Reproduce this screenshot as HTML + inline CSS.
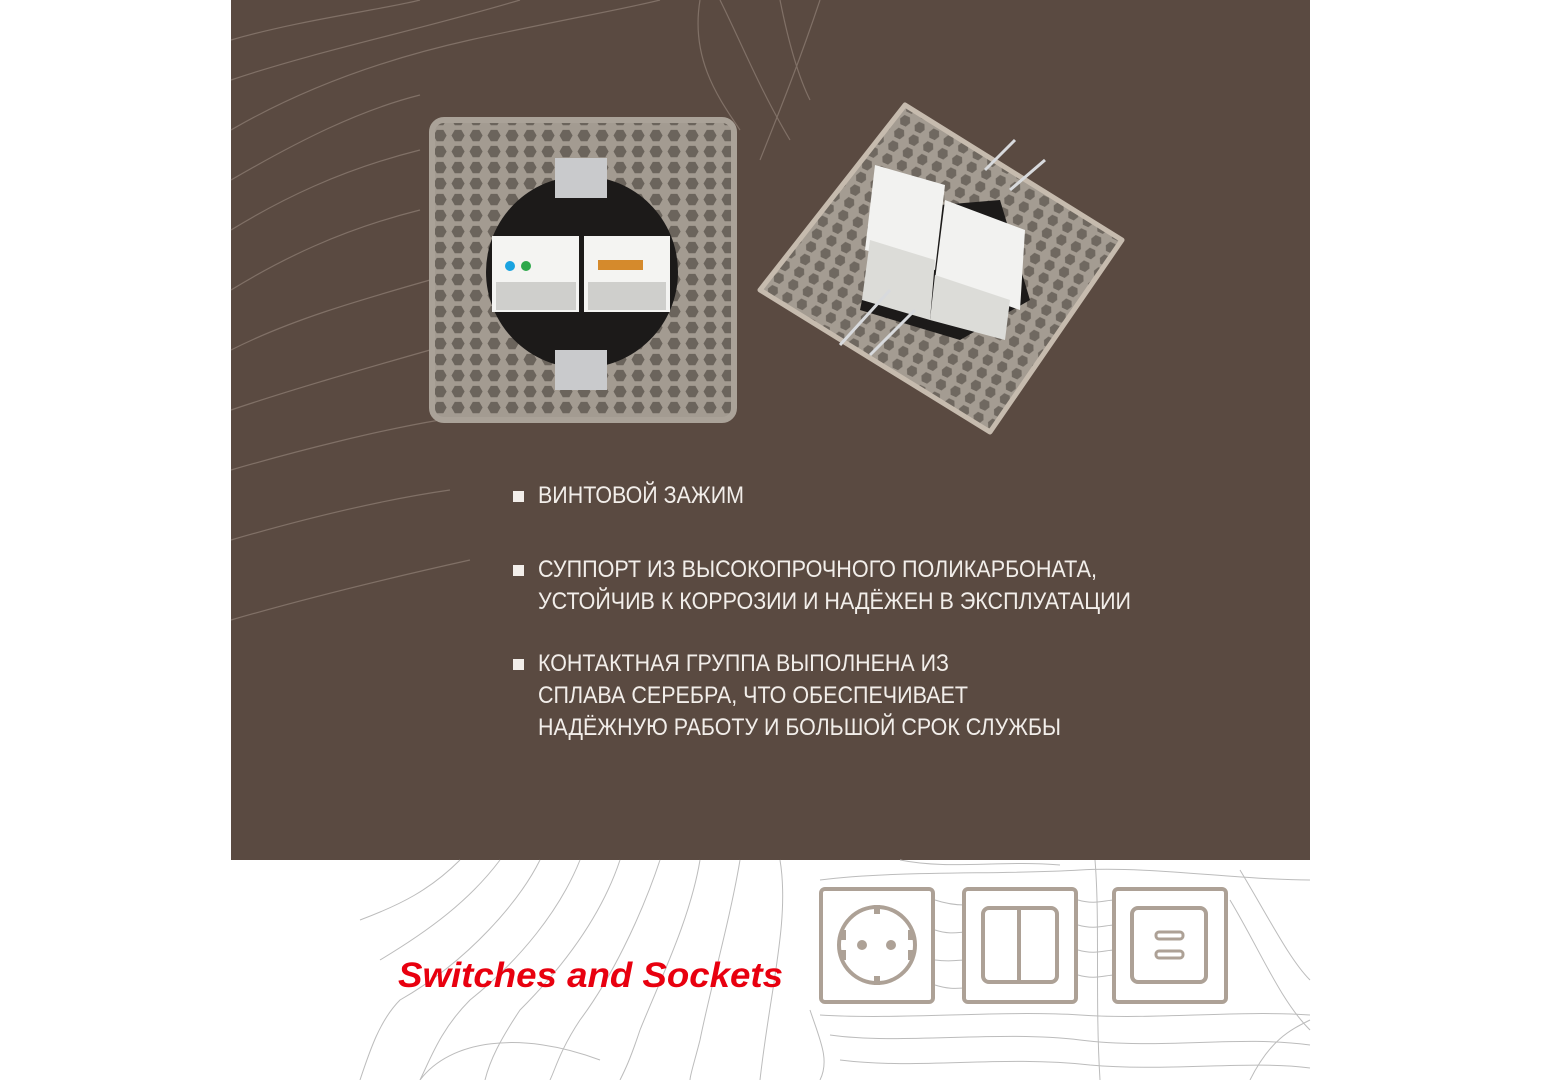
<!DOCTYPE html>
<html><head><meta charset="utf-8"><style>
html,body{margin:0;padding:0;background:#fff;}
svg{display:block}
</style></head><body>
<svg width="1543" height="1080" viewBox="0 0 1543 1080" xmlns="http://www.w3.org/2000/svg">
<defs>
<pattern id="hex" width="18" height="16" patternUnits="userSpaceOnUse">
<rect width="18" height="16" fill="#a39b91"/>
<polygon points="4,1 12,1 16,8 12,15 4,15 0,8" fill="#6b645c" transform="translate(1.5,1) scale(0.82)"/>
</pattern>
<pattern id="hex2" width="16" height="14" patternUnits="userSpaceOnUse" patternTransform="rotate(25)">
<rect width="16" height="14" fill="#a49c92"/>
<polygon points="4,1 11,1 14,7 11,13 4,13 1,7" fill="#6f6860" transform="translate(1,1) scale(0.85)"/>
</pattern>
</defs>
<rect width="1543" height="1080" fill="#fff"/>
<rect x="231" y="0" width="1079" height="860" fill="#5a4a41"/>
<g fill="none" stroke="#8a7a70" stroke-width="1.2" opacity="0.8">
<path d="M231,40 C300,20 380,10 420,0"/>
<path d="M231,80 C320,50 420,30 520,0"/>
<path d="M231,130 C300,90 380,60 470,40 C560,20 620,10 660,0"/>
<path d="M231,180 C300,140 360,110 420,95"/>
<path d="M231,230 C280,200 340,170 420,150"/>
<path d="M231,290 C280,260 340,230 420,210"/>
<path d="M231,350 C290,320 360,300 430,280"/>
<path d="M231,410 C290,390 360,370 430,350"/>
<path d="M231,470 C300,450 380,430 440,420 C520,405 580,395 620,390"/>
<path d="M231,540 C300,520 380,500 450,490"/>
<path d="M231,620 C300,600 380,580 470,560"/>
<path d="M720,0 C740,40 760,90 790,140"/>
<path d="M780,0 C790,50 800,80 810,100"/>
<path d="M700,0 C690,60 720,100 740,130"/>
<path d="M820,0 C800,60 780,110 760,160"/>
</g>
<g fill="none" stroke="#bcbcbc" stroke-width="1">
<path d="M540,860 C520,900 470,960 400,1000 C380,1020 370,1050 360,1080"/>
<path d="M580,860 C560,910 520,960 470,1000 C440,1030 430,1060 420,1080"/>
<path d="M620,860 C600,920 560,970 520,1010 C500,1040 490,1060 485,1080"/>
<path d="M660,860 C640,920 610,980 580,1020 C560,1050 555,1070 550,1080"/>
<path d="M700,860 C690,920 660,980 640,1030 C630,1060 625,1070 620,1080"/>
<path d="M740,860 C730,920 710,990 700,1040 C695,1060 690,1075 690,1080"/>
<path d="M780,860 C790,920 770,990 760,1080"/>
<path d="M500,860 C470,900 430,930 380,960"/>
<path d="M460,860 C430,890 400,905 360,920"/>
<path d="M420,1080 C450,1040 520,1030 600,1060"/>
<path d="M810,1010 C820,1040 830,1060 820,1080"/>
<path d="M935,900 C950,905 960,905 965,905"/><path d="M935,930 C950,935 960,932 965,932"/>
<path d="M935,960 C950,962 960,960 965,960"/><path d="M935,985 C950,990 960,988 965,988"/>
<path d="M1078,900 C1095,905 1105,900 1115,900"/><path d="M1078,925 C1095,930 1105,925 1115,925"/>
<path d="M1078,950 C1095,955 1105,950 1115,950"/><path d="M1078,975 C1095,980 1105,975 1115,975"/>
<path d="M820,880 C900,870 1000,875 1080,870 C1150,866 1240,880 1310,880"/>
<path d="M900,860 C950,870 1000,860 1060,865"/>
<path d="M1230,900 C1260,950 1280,1000 1310,1030"/>
<path d="M1240,870 C1270,920 1290,960 1310,980"/>
<path d="M820,1015 C900,1020 1000,1010 1080,1015 C1150,1020 1240,1010 1310,1015"/>
<path d="M830,1035 C900,1045 1000,1030 1080,1040 C1160,1050 1240,1035 1310,1045"/>
<path d="M840,1060 C920,1070 1000,1055 1090,1065 C1170,1072 1250,1060 1310,1068"/>
<path d="M1095,860 C1100,920 1095,1000 1100,1080"/>
<path d="M1250,1080 C1270,1040 1290,1030 1310,1020"/>
</g>
<rect x="432" y="120" width="302" height="300" rx="12" fill="url(#hex)" stroke="#aaa298" stroke-width="6"/>
<circle cx="582" cy="272" r="96" fill="#1c1a19"/>
<rect x="555" y="158" width="52" height="40" fill="#c9cacc"/>
<rect x="555" y="350" width="52" height="40" fill="#c9cacc"/>
<rect x="492" y="236" width="87" height="76" fill="#f4f4f2"/>
<rect x="584" y="236" width="86" height="76" fill="#f4f4f2"/>
<rect x="496" y="282" width="80" height="28" fill="#cfcfcc"/>
<rect x="588" y="282" width="78" height="28" fill="#cfcfcc"/>
<circle cx="510" cy="266" r="5" fill="#1aa3e0"/><circle cx="526" cy="266" r="5" fill="#2da84a"/>
<rect x="598" y="260" width="45" height="10" fill="#d58a2c"/>
<polygon points="905,105 1122,240 990,432 760,290" fill="url(#hex2)" stroke="#c6bbae" stroke-width="5" stroke-linejoin="round"/>
<polygon points="880,210 1000,200 1030,300 960,340 860,310" fill="#1c1a19"/>
<polygon points="875,165 945,185 935,270 865,250" fill="#f2f2f0"/>
<polygon points="945,200 1025,230 1020,310 935,280" fill="#f2f2f0"/>
<polygon points="870,240 935,260 930,320 862,300" fill="#dcdcd8"/>
<polygon points="935,275 1010,300 1005,340 930,320" fill="#dcdcd8"/>
<line x1="840" y1="345" x2="890" y2="290" stroke="#d8dadd" stroke-width="3"/>
<line x1="870" y1="355" x2="915" y2="310" stroke="#d8dadd" stroke-width="3"/>
<line x1="985" y1="170" x2="1015" y2="140" stroke="#d8dadd" stroke-width="3"/>
<line x1="1010" y1="190" x2="1045" y2="160" stroke="#d8dadd" stroke-width="3"/>
<g fill="#f2eeea" font-family="Liberation Sans, sans-serif" font-size="24">
<rect x="513" y="491" width="11" height="11"/>
<rect x="513" y="565" width="11" height="11"/>
<rect x="513" y="659" width="11" height="11"/>
<text x="538" y="503" textLength="206" lengthAdjust="spacingAndGlyphs">ВИНТОВОЙ ЗАЖИМ</text>
<text x="538" y="577" textLength="559" lengthAdjust="spacingAndGlyphs">СУППОРТ ИЗ ВЫСОКОПРОЧНОГО ПОЛИКАРБОНАТА,</text>
<text x="538" y="609" textLength="593" lengthAdjust="spacingAndGlyphs">УСТОЙЧИВ К КОРРОЗИИ И НАДЁЖЕН В ЭКСПЛУАТАЦИИ</text>
<text x="538" y="671" textLength="411" lengthAdjust="spacingAndGlyphs">КОНТАКТНАЯ ГРУППА ВЫПОЛНЕНА ИЗ</text>
<text x="538" y="703" textLength="430" lengthAdjust="spacingAndGlyphs">СПЛАВА СЕРЕБРА, ЧТО ОБЕСПЕЧИВАЕТ</text>
<text x="538" y="735" textLength="523" lengthAdjust="spacingAndGlyphs">НАДЁЖНУЮ РАБОТУ И БОЛЬШОЙ СРОК СЛУЖБЫ</text>
</g>
<g fill="#fff" stroke="#ada196" stroke-width="4">
<rect x="821" y="889" width="112" height="113" rx="4"/>
<circle cx="877" cy="945" r="38"/>
<rect x="964" y="889" width="112" height="113" rx="4"/>
<rect x="983" y="908" width="74" height="74" rx="6"/>
<line x1="1019" y1="908" x2="1019" y2="982"/>
<rect x="1114" y="889" width="112" height="113" rx="4"/>
<rect x="1132" y="908" width="74" height="74" rx="6"/>
<rect x="1156" y="932" width="27" height="7" rx="3" stroke-width="3"/>
<rect x="1156" y="951" width="27" height="7" rx="3" stroke-width="3"/>
</g>
<g fill="#ada196">
<rect x="874" y="905" width="6" height="9"/><rect x="874" y="976" width="6" height="9"/>
<rect x="840" y="930" width="6" height="10"/><rect x="908" y="930" width="6" height="10"/>
<rect x="840" y="950" width="6" height="10"/><rect x="908" y="950" width="6" height="10"/>
<circle cx="862" cy="945" r="5"/><circle cx="891" cy="945" r="5"/>
</g>
<text x="398" y="987" fill="#e8000f" font-family="Liberation Sans, sans-serif" font-weight="bold" font-style="italic" font-size="35" textLength="385" lengthAdjust="spacingAndGlyphs">Switches and Sockets</text>
</svg>
</body></html>
